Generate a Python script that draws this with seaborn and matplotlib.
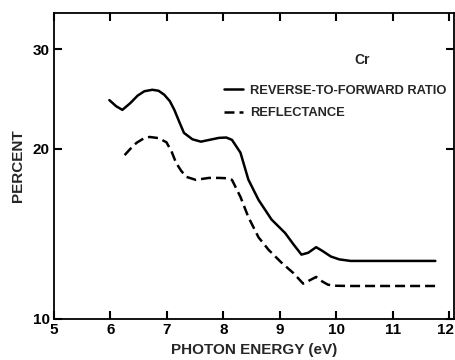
import matplotlib
matplotlib.use("Agg")
import matplotlib.pyplot as plt
import matplotlib.transforms as mtransforms
from matplotlib.ticker import FixedLocator, NullLocator, FixedFormatter
import seaborn as sns

# Data
ratio_energy = [5.98, 6.10, 6.21, 6.35, 6.48, 6.60, 6.74, 6.85, 6.95, 7.05, 7.13, 7.22, 7.30,
                7.45, 7.60, 7.75, 7.92, 8.05, 8.15, 8.30, 8.44, 8.62, 8.85, 9.09, 9.24,
                9.38, 9.50, 9.64, 9.75, 9.90, 10.05, 10.25, 11.0, 11.75]
ratio_percent = [24.4, 23.8, 23.45, 24.1, 24.85, 25.3, 25.45, 25.35, 24.95, 24.3, 23.45, 22.3, 21.35,
                 20.8, 20.6, 20.75, 20.92, 20.95, 20.75, 19.7, 17.65, 16.25, 15.0, 14.2, 13.55,
                 13.0, 13.1, 13.4, 13.2, 12.9, 12.75, 12.67, 12.67, 12.67]

refl_energy = [6.25, 6.35, 6.46, 6.58, 6.69, 6.85, 6.99, 7.08, 7.16, 7.25, 7.34, 7.51, 7.74,
               7.92, 8.05, 8.15, 8.30, 8.44, 8.62, 8.80, 9.02, 9.24, 9.41, 9.52, 9.64,
               9.75, 9.85, 10.0, 10.25, 11.0, 11.75]
refl_percent = [19.5, 20.0, 20.5, 20.85, 21.0, 20.9, 20.55, 19.8, 18.9, 18.3, 17.85, 17.63, 17.77,
                17.77, 17.75, 17.63, 16.45, 15.15, 13.95, 13.25, 12.6, 12.05, 11.55, 11.7, 11.87,
                11.65, 11.5, 11.45, 11.44, 11.44, 11.44]

x_ticks = [5, 6, 7, 8, 9, 10, 11, 12]
x_tick_labels = ["5", "6", "7", "8", "9", "10", "11", "12"]
y_ticks = [10, 20, 30]
y_tick_labels = ["10", "20", "30"]
series_names = ["REVERSE-TO-FORWARD RATIO", "REFLECTANCE"]

sns.set_style("ticks")
plt.rcParams["font.family"] = ["Liberation Sans", "DejaVu Sans"]
plt.rcParams["font.weight"] = "bold"

fig = plt.figure(figsize=(4.55, 3.60), dpi=100)
ax = fig.add_axes([54 / 455, 1 - 319 / 360, 400 / 455, 306 / 360])

sns.lineplot(x=ratio_energy, y=ratio_percent, ax=ax, color="black", lw=1.8,
             label=series_names[0], sort=False)
sns.lineplot(x=refl_energy, y=refl_percent, ax=ax, color="black", lw=1.8,
             linestyle=(0, (4, 2)), label=series_names[1], sort=False)

ax.set_yscale("log")
ax.set_xlim(5, 12.08)
ax.set_ylim(10, 34.8)
ax.xaxis.set_major_locator(FixedLocator(x_ticks))
ax.xaxis.set_major_formatter(FixedFormatter(x_tick_labels))
ax.yaxis.set_major_locator(FixedLocator(y_ticks))
ax.yaxis.set_major_formatter(FixedFormatter(y_tick_labels))
ax.yaxis.set_minor_locator(NullLocator())
ax.xaxis.set_minor_locator(NullLocator())

ax.tick_params(axis="both", which="major", direction="in", length=6, width=1.5,
               top=True, right=True, labelsize=11, pad=3, colors="black")
for lab in ax.get_xticklabels() + ax.get_yticklabels():
    lab.set_fontweight("bold")
for s in ax.spines.values():
    s.set_linewidth(1.3)
    s.set_color("black")

# nudge the last x tick label so it stays inside the canvas
fig.canvas.draw()
last = ax.get_xticklabels()[-1]
last.set_transform(last.get_transform() + mtransforms.ScaledTranslation(-4 / 100, 0, fig.dpi_scale_trans))

ax.set_xlabel("PHOTON ENERGY (eV)", fontsize=11, fontweight="bold", labelpad=4)
ax.set_ylabel("PERCENT", fontsize=11, fontweight="bold", labelpad=5.5)

ax.legend(loc="upper left", bbox_to_anchor=(0.425, 0.765), frameon=False,
          borderpad=0, borderaxespad=0, handlelength=1.5, handletextpad=0.55,
          labelspacing=0.8, prop={"size": 9.3, "weight": "bold"})
ax.text(0.77, 0.846, "Cr", transform=ax.transAxes, ha="center", va="center",
        fontsize=10, fontweight="bold")

fig.savefig("out.png", dpi=100)
